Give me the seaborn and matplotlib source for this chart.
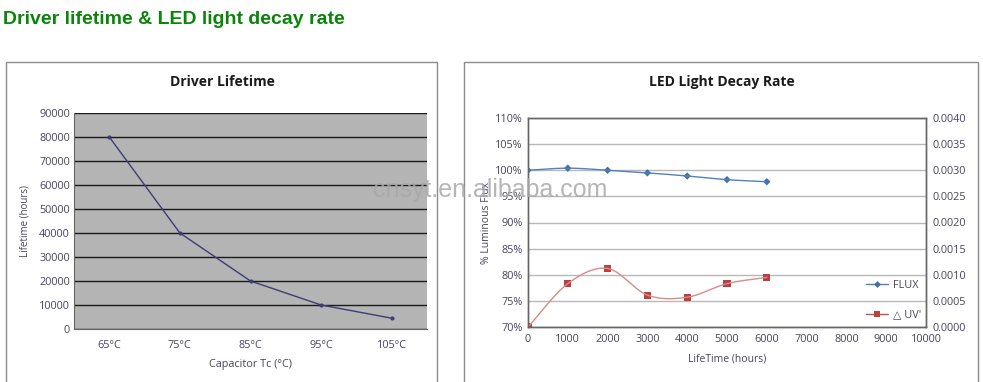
import numpy as np
import pandas as pd
import matplotlib.pyplot as plt
import seaborn as sns
from matplotlib.patches import Rectangle
from matplotlib.lines import Line2D
from matplotlib.ticker import FuncFormatter

# Driver lifetime data
temps = ['65°C', '75°C', '85°C', '95°C', '105°C']
lifetime = [80000, 40000, 20000, 10000, 4500]

# LED light decay data
hours = [0, 1000, 2000, 3000, 4000, 5000, 6000]
flux = [1.000, 1.004, 1.000, 0.995, 0.989, 0.982, 0.978]
delta_uv = [0.0, 0.00083, 0.00112, 0.00061, 0.00057, 0.00083, 0.00095]

TEXT = '#4a4460'


def smooth(x, y, n=24):
    """Catmull-Rom style path through the points, like Excel's smoothed line"""
    x = np.asarray(x, float)
    y = np.asarray(y, float)
    px = np.concatenate([[2 * x[0] - x[1]], x, [2 * x[-1] - x[-2]]])
    py = np.concatenate([[2 * y[0] - y[1]], y, [2 * y[-1] - y[-2]]])
    xs, ys = [], []
    t = np.linspace(0, 1, n)
    for i in range(1, len(px) - 2):
        for p, out in ((px, xs), (py, ys)):
            p0, p1, p2, p3 = p[i - 1], p[i], p[i + 1], p[i + 2]
            out.extend(0.5 * ((2 * p1) + (-p0 + p2) * t
                              + (2 * p0 - 5 * p1 + 4 * p2 - p3) * t ** 2
                              + (-p0 + 3 * p1 - 3 * p2 + p3) * t ** 3))
    return np.array(xs), np.array(ys)


sns.set_style('white')
plt.rcParams['font.family'] = ['Open Sans', 'DejaVu Sans']

fig = plt.figure(figsize=(9.83, 3.82), dpi=100)

# page heading and panel frames
fig.text(3 / 983, 1 - 20 / 382, 'Driver lifetime & LED light decay rate', color='#0a840a',
         fontsize=14, fontweight='bold', family='Liberation Sans', va='center')
for x0, x1 in ((6, 437), (464, 978)):
    fig.patches.append(Rectangle((x0 / 983, -0.01), (x1 - x0) / 983, 1.01 - 62 / 382,
                                 transform=fig.transFigure, fill=False, edgecolor='#8c8c8c', lw=1))

# ---- Driver lifetime ----
ax1 = fig.add_axes([74 / 983, 1 - 329 / 382, 353 / 983, 216 / 382])
df1 = pd.DataFrame({'pos': np.arange(len(temps)), 'life': lifetime})
ax1.set_facecolor('#b4b4b4')
sns.lineplot(data=df1, x='pos', y='life', ax=ax1, color='#3d3d75', lw=1,
             marker='o', markersize=3, markeredgewidth=0)
ax1.set_xlim(-0.5, len(temps) - 0.5)
ax1.set_ylim(0, 90000)
ax1.set_yticks(range(0, 90001, 10000))
ax1.yaxis.grid(True, color='#1a1a1a', lw=1)
ax1.set_xticks(df1['pos'])
ax1.set_xticklabels(temps)
ax1.set_xticks(np.arange(0.5, len(temps) - 0.5, 1), minor=True)
ax1.tick_params(axis='x', which='major', length=0, pad=8)
ax1.tick_params(axis='x', which='minor', length=3, color='#555555', direction='in')
ax1.tick_params(axis='both', labelsize=7.8, labelcolor=TEXT)
ax1.tick_params(axis='y', length=0, pad=3)
for s in ('top', 'right'):
    ax1.spines[s].set_visible(False)
for s in ('left', 'bottom'):
    ax1.spines[s].set_color('#666666')
    ax1.spines[s].set_linewidth(0.8)
ax1.set_xlabel('Capacitor Tc (°C)', fontsize=7.8, color=TEXT, labelpad=6)
ax1.set_ylabel('Lifetime (hours)', fontsize=7, color=TEXT, labelpad=6)
fig.text(222 / 983, 1 - 82 / 382, 'Driver Lifetime', ha='center', va='center',
         fontsize=10, fontweight='bold', color='#1a1a1a')

# ---- LED light decay rate ----
ax2 = fig.add_axes([528 / 983, 1 - 327 / 382, 398 / 983, 209 / 382])
ax3 = ax2.twinx()
df2 = pd.DataFrame({'hours': hours, 'flux': flux, 'duv': delta_uv})

fx, fy = smooth(hours, flux)
ax2.plot(fx, fy, color='#4f81bd', lw=1)
sns.scatterplot(data=df2, x='hours', y='flux', ax=ax2, marker='D', s=14,
                color='#3f6fad', edgecolor='none', legend=False)
ux, uy = smooth(hours, delta_uv)
ax3.plot(ux, uy, color='#d98a8c', lw=1)
sns.scatterplot(data=df2, x='hours', y='duv', ax=ax3, marker='s', s=26,
                color='#b9403e', edgecolor='none', legend=False)

ax2.set_xlim(0, 10000)
ax2.set_ylim(0.70, 1.10)
ax3.set_ylim(0, 0.004)
ax2.set_xticks(range(0, 10001, 1000))
ax2.set_yticks(np.arange(0.70, 1.1001, 0.05))
ax3.set_yticks(np.arange(0, 0.00401, 0.0005))
ax2.yaxis.set_major_formatter(FuncFormatter(lambda v, p: f'{v * 100:.0f}%'))
ax3.yaxis.set_major_formatter(FuncFormatter(lambda v, p: f'{v:.4f}'))
ax2.yaxis.grid(True, color='#b8b8b8', lw=1)
ax2.tick_params(axis='x', length=3, direction='out', color='#555555', labelsize=7.8,
                labelcolor=TEXT, pad=2)
ax2.tick_params(axis='y', length=0, labelsize=7.8, labelcolor=TEXT, pad=4)
ax3.tick_params(axis='y', length=0, labelsize=7.8, labelcolor=TEXT, pad=5)
for a in (ax2, ax3):
    for s in a.spines.values():
        s.set_color('#666666')
        s.set_linewidth(1)
ax2.set_xlabel('LifeTime (hours)', fontsize=7.5, color=TEXT, labelpad=6)
ax2.set_ylabel('% Luminous Flux', fontsize=7.5, color=TEXT, labelpad=2)
ax3.set_ylabel('')
fig.text(722 / 983, 1 - 82 / 382, 'LED Light Decay Rate', ha='center', va='center',
         fontsize=10, fontweight='bold', color='#1a1a1a')

handles = [Line2D([], [], color='#4f81bd', lw=1, marker='D', markersize=3.5,
                  markerfacecolor='#3f6fad', markeredgewidth=0),
           Line2D([], [], color='#c0504d', lw=1, marker='s', markersize=4.5,
                  markerfacecolor='#b9403e', markeredgewidth=0)]
ax2.legend(handles, ['FLUX', '△ UV\''], loc='lower right', bbox_to_anchor=(1.01, -0.01),
           frameon=False, fontsize=7.8, labelcolor=TEXT, handlelength=2.0,
           handletextpad=0.5, labelspacing=1.7, borderpad=0.3)

# site watermark: it sits over the "95%" label and the axis title in the source too
fig.text(373 / 983, 1 - 190 / 382, 'cnsyt.en.alibaba.com', fontsize=18, color='#a9a9a9',
         alpha=0.85, family='Liberation Sans', va='center', zorder=10)

fig.savefig('out.png', dpi=100)
